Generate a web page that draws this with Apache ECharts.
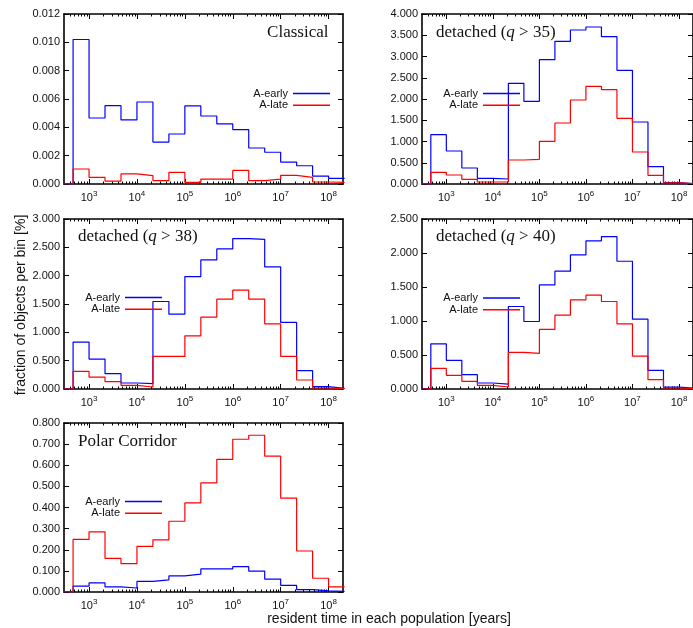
<!DOCTYPE html>
<html><head><meta charset="utf-8">
<script src="https://cdn.jsdelivr.net/npm/echarts@6/dist/echarts.min.js"></script>
<style>html,body{margin:0;padding:0;background:#fff}#c{width:693px;height:628px}</style>
</head><body><div id="c"></div>
<script>
// ---- data ----
// histogram bin edges (years), 1/3-decade bins; the first bin is empty
const binEdges = [215.4, 464.2, 1000, 2154, 4642, 1e4, 21544, 46416, 1e5, 215443, 464159, 1e6, 2154435, 4641589, 1e7, 21544347, 46415888, 1e8, 215443469];
const xTickValues = [1e3, 1e4, 1e5, 1e6, 1e7, 1e8];
const panelTitles = ['Classical', 'detached ({i|q} > 35)', 'detached ({i|q} > 38)', 'detached ({i|q} > 40)', 'Polar Corridor'];
const seriesNames = ['A-early', 'A-late'];
const yMaxima = [0.012, 4, 3, 2.5, 0.8];
const yIntervals = [0.002, 0.5, 0.5, 0.5, 0.1];

const classicalEarly = [0, 0.0102, 0.00466, 0.00553, 0.00452, 0.00579, 0.00296, 0.00353, 0.00551, 0.0048, 0.00424, 0.00384, 0.00254, 0.00224, 0.00155, 0.00129, 0.00056, 0.0004];
const classicalLate  = [0, 0.00106, 0.00047, 0.00021, 0.00071, 0.00059, 0.00024, 0.00082, 0.00012, 0.00035, 0.00035, 0.00096, 0.00024, 0.00035, 0.00061, 0.00047, 0.00014, 0.00012];
const q35Early = [0, 1.161, 0.776, 0.376, 0.133, 0.118, 2.369, 1.945, 2.925, 3.357, 3.624, 3.694, 3.467, 2.675, 1.459, 0.408, 0.031, 0.01];
const q35Late  = [0, 0.275, 0.212, 0.110, 0.047, 0.047, 0.565, 0.580, 1.004, 1.435, 1.976, 2.298, 2.22, 1.545, 0.753, 0.204, 0.03, 0.01];
const q38Early = [0, 0.828, 0.528, 0.270, 0.106, 0.094, 1.544, 1.321, 1.984, 2.278, 2.472, 2.654, 2.642, 2.155, 1.174, 0.323, 0.041, 0.012];
const q38Late  = [0, 0.311, 0.211, 0.129, 0.065, 0.035, 0.575, 0.575, 0.939, 1.268, 1.585, 1.744, 1.585, 1.151, 0.575, 0.159, 0.018, 0.005];
const q40Early = [0, 0.665, 0.421, 0.210, 0.088, 0.073, 1.213, 0.993, 1.531, 1.732, 1.971, 2.177, 2.241, 1.879, 1.027, 0.274, 0.029, 0.01];
const q40Late  = [0, 0.303, 0.201, 0.113, 0.054, 0.029, 0.538, 0.523, 0.876, 1.086, 1.311, 1.380, 1.287, 0.959, 0.484, 0.137, 0.015, 0.005];
const polarEarly = [0, 0.028, 0.043, 0.024, 0.019, 0.050, 0.057, 0.076, 0.085, 0.109, 0.109, 0.12, 0.099, 0.061, 0.031, 0.011, 0.005, 0.003];
const polarLate  = [0, 0.249, 0.285, 0.159, 0.134, 0.216, 0.247, 0.335, 0.422, 0.517, 0.628, 0.723, 0.742, 0.643, 0.444, 0.194, 0.065, 0.024];

const panelData = [
  [classicalEarly, classicalLate],
  [q35Early, q35Late],
  [q38Early, q38Late],
  [q40Early, q40Late],
  [polarEarly, polarLate]
];

// ---- layout / style ----
const X_MIN = 300, X_MAX = 2e8;
const colors = ['#0000ff', '#ff0000'];
const gridBoxes = [
  {left: 64, top: 14, width: 279, height: 170},
  {left: 422, top: 14, width: 279, height: 170},
  {left: 64, top: 219, width: 279, height: 170},
  {left: 422, top: 219, width: 279, height: 170},
  {left: 64, top: 423, width: 279, height: 169}
];
const titlePos = [
  {right: 693 - 328.5, top: 23},
  {left: 436, top: 23},
  {left: 78, top: 227},
  {left: 436, top: 227},
  {left: 78, top: 431.5}
];
const legendPos = [
  {right: 693 - 330, top: 88},
  {right: 693 - 520, top: 88},
  {right: 693 - 162, top: 292},
  {right: 693 - 520, top: 292.5},
  {right: 693 - 162, top: 496}
];

const minorTicks = [];
for (let n = 2; n <= 8; n++) for (let k = 2; k <= 9; k++) {
  const v = k * Math.pow(10, n);
  if (v > X_MIN && v < X_MAX) minorTicks.push(v);
}

const SANS = '"Liberation Sans", Arial, sans-serif';
const SERIF = '"Liberation Serif", "Times New Roman", serif';
const FRAME = {show: true, onZero: false, lineStyle: {color: '#000', width: 1.6}};
const NOLINE = {show: false, onZero: false};

function stepPoints(vals) {
  const pts = [];
  for (let i = 0; i < vals.length; i++) pts.push([binEdges[i], vals[i]]);
  pts.push([binEdges[vals.length], vals[vals.length - 1]]);
  return pts;
}

const grid = [], xAxis = [], yAxis = [], series = [], title = [], legend = [];
gridBoxes.forEach((g, gi) => {
  grid.push(Object.assign({containLabel: false}, g));
  const base = {type: 'log', gridIndex: gi, min: X_MIN, max: X_MAX, splitLine: {show: false}};
  xAxis.push(Object.assign({}, base, {
    position: 'bottom', axisLine: FRAME,
    axisTick: {show: true, inside: true, length: 5, customValues: xTickValues, lineStyle: {color: '#000', width: 1}},
    axisLabel: {
      customValues: xTickValues, margin: 6, color: '#111',
      formatter: v => '{b|10}{s|' + Math.round(Math.log10(v)) + '}',
      rich: {b: {fontSize: 11, fontFamily: SANS, color: '#111'}, s: {fontSize: 8, fontFamily: SANS, color: '#111', padding: [0, 0, 8, 0]}}
    }
  }));
  xAxis.push(Object.assign({}, base, {
    position: 'bottom', axisLine: NOLINE,
    axisTick: {show: true, inside: true, length: 2.5, customValues: minorTicks, lineStyle: {color: '#000', width: 1}},
    axisLabel: {show: false}
  }));
  xAxis.push(Object.assign({}, base, {
    position: 'top', axisLine: FRAME,
    axisTick: {show: true, inside: true, length: 5, customValues: xTickValues, lineStyle: {color: '#000', width: 1}},
    axisLabel: {show: false}
  }));
  xAxis.push(Object.assign({}, base, {
    position: 'top', axisLine: NOLINE,
    axisTick: {show: true, inside: true, length: 2.5, customValues: minorTicks, lineStyle: {color: '#000', width: 1}},
    axisLabel: {show: false}
  }));
  const ybase = {type: 'value', gridIndex: gi, min: 0, max: yMaxima[gi], interval: yIntervals[gi], splitLine: {show: false}, axisLine: FRAME,
    axisTick: {show: true, inside: true, length: 5, lineStyle: {color: '#000', width: 1}}};
  yAxis.push(Object.assign({}, ybase, {
    position: 'left',
    axisLabel: {fontSize: 11, fontFamily: SANS, color: '#111', margin: 4, formatter: v => v.toFixed(3)}
  }));
  yAxis.push(Object.assign({}, ybase, {position: 'right', axisLabel: {show: false}}));

  panelData[gi].forEach((vals, si) => {
    series.push({
      type: 'line', name: seriesNames[si], xAxisIndex: gi * 4, yAxisIndex: gi * 2,
      data: stepPoints(vals), step: 'end', symbol: 'none', showSymbol: false, clip: true,
      color: colors[si], itemStyle: {color: colors[si]},
      lineStyle: {color: colors[si], width: 1.2}, emphasis: {disabled: true}, silent: true, animation: false
    });
  });

  title.push(Object.assign({
    text: panelTitles[gi], padding: 0,
    textStyle: {fontFamily: SERIF, fontSize: 17, fontWeight: 'normal', color: '#111', lineHeight: 20,
      rich: {i: {fontFamily: SERIF, fontSize: 17, fontStyle: 'italic', color: '#111', lineHeight: 20}}}
  }, titlePos[gi]));

  seriesNames.forEach((nm, si) => {
    legend.push({
      data: [nm], right: legendPos[gi].right, top: legendPos[gi].top + si * 11.7,
      orient: 'vertical', align: 'right', icon: 'rect', itemWidth: 37, itemHeight: 1.5, padding: 0,
      selectedMode: false, textStyle: {fontSize: 11, fontFamily: SANS, color: '#111'}
    });
  });
});

const chart = echarts.init(document.getElementById('c'), null, {renderer: 'canvas'});
chart.setOption({
  backgroundColor: '#fff',
  animation: false,
  grid, xAxis, yAxis, series, title, legend,
  graphic: [
    {type: 'text', x: 21, y: 305, rotation: Math.PI / 2,
      style: {text: 'fraction of objects per bin [%]', font: '14px ' + SANS, fill: '#111', align: 'center', verticalAlign: 'middle'}},
    {type: 'text', x: 389, y: 619,
      style: {text: 'resident time in each population [years]', font: '14px ' + SANS, fill: '#111', align: 'center', verticalAlign: 'middle'}}
  ]
});
</script>
</body></html>
